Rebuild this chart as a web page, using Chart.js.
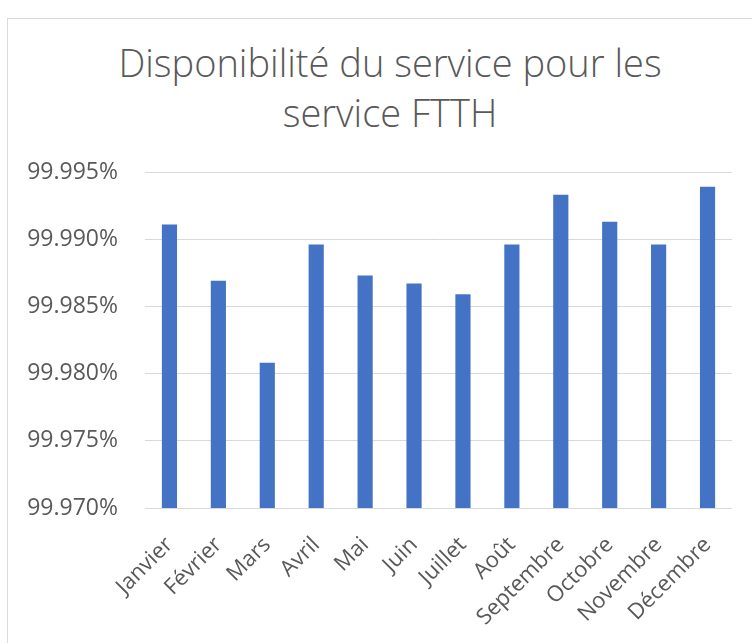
<!DOCTYPE html>
<html>
<head>
<meta charset="utf-8">
<script src="https://cdn.jsdelivr.net/npm/chart.js@4"></script>
<style>
  html, body { margin: 0; padding: 0; background: #fff; overflow: hidden; }
  #frame {
    position: absolute; left: 7px; top: 18px;
    width: 780px; height: 700px;
    border: 1px solid #d9d9d9;
  }
  #title {
    position: absolute; left: 0; top: 37px; width: 780px;
    text-align: center;
    font-family: 'Open Sans', sans-serif;
    font-weight: 300;
    font-size: 38px;
    line-height: 50px;
    color: #595959;
  }
  #wrap { position: absolute; left: 0; top: 0; width: 780px; height: 643px; }
</style>
</head>
<body>
<div id="frame"></div>
<div id="title"></div>
<div id="wrap"><canvas id="availabilityChart"></canvas></div>
<script>
// Mois
const months = ['Janvier', 'Février', 'Mars', 'Avril', 'Mai', 'Juin',
  'Juillet', 'Août', 'Septembre', 'Octobre', 'Novembre', 'Décembre'];

// Disponibilité (%) par mois
const availability = [99.9911, 99.9869, 99.9808, 99.9896, 99.9873, 99.9867,
  99.9859, 99.9896, 99.9933, 99.9913, 99.9896, 99.9939];

// Axe Y
const yMin = 99.970;
const yMax = 99.995;
const yStep = 0.005;

const titleLines = ['Disponibilité du service pour les', 'service FTTH'];

const TEXT_COLOR = '#595959';
const GRID_COLOR = '#d9d9d9';
const BAR_COLOR = '#4472c4';

// Title as plain text above the canvas
const titleEl = document.getElementById('title');
titleLines.forEach((line, i) => {
  if (i > 0) titleEl.appendChild(document.createElement('br'));
  titleEl.appendChild(document.createTextNode(line));
});

const ctx = document.getElementById('availabilityChart').getContext('2d');

new Chart(ctx, {
  type: 'bar',
  data: {
    labels: months,
    datasets: [{
      data: availability,
      backgroundColor: BAR_COLOR,
      borderWidth: 0,
      barPercentage: 0.31,
      categoryPercentage: 1
    }]
  },
  options: {
    responsive: true,
    maintainAspectRatio: false,
    animation: false,
    layout: {
      padding: { top: 172, left: 8, right: 48, bottom: 15 }
    },
    plugins: {
      legend: { display: false },
      tooltip: { enabled: false },
      title: { display: false }
    },
    scales: {
      x: {
        grid: { display: false },
        border: { display: false },
        afterFit: scale => { scale.height = 120; },
        ticks: {
          color: TEXT_COLOR,
          font: { family: 'Open Sans', size: 22 },
          minRotation: 45,
          maxRotation: 45,
          autoSkip: false,
          padding: 16
        }
      },
      y: {
        min: yMin,
        max: yMax,
        afterFit: scale => { scale.width = 137; },
        grid: { color: GRID_COLOR, lineWidth: 1, drawTicks: false },
        border: { display: false },
        ticks: {
          stepSize: yStep,
          color: TEXT_COLOR,
          font: { family: 'Open Sans', size: 23 },
          padding: 27,
          callback: v => Number(v).toFixed(3) + '%'
        }
      }
    }
  }
});
</script>
</body>
</html>
